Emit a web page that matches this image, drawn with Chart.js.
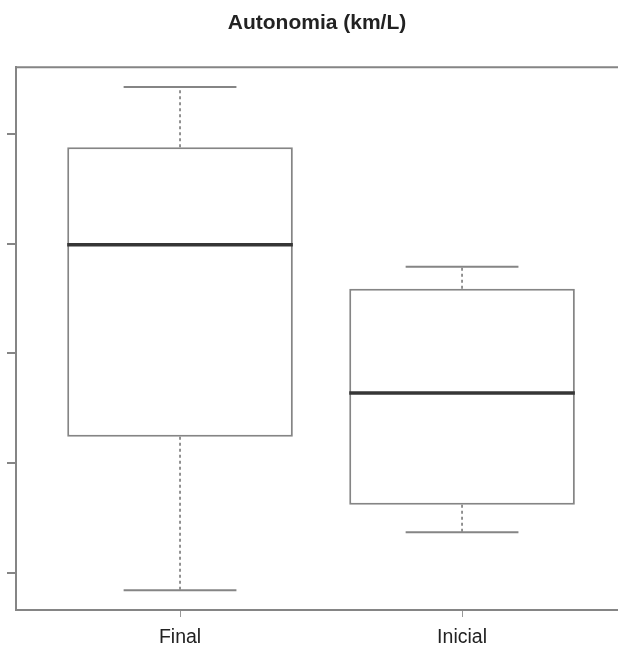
<!DOCTYPE html>
<html>
<head>
<meta charset="utf-8">
<script src="https://cdn.jsdelivr.net/npm/chart.js@4/dist/chart.umd.min.js"></script>
<style>
  html, body { margin: 0; padding: 0; background: #fff; }
  #wrap { width: 618px; height: 653px; }
</style>
</head>
<body>
<div id="wrap"><canvas id="boxChart"></canvas></div>
<script>
// boxplot stats (y units are arbitrary, tick labels are cut off)
const categories = ['Final', 'Inicial'];
const whiskerLow = [8.84, 9.37];
const q1 = [10.24, 9.62];
const median = [11.99, 10.64];
const q3 = [12.88, 11.59];
const whiskerHigh = [13.43, 11.79];
const yTicks = [9, 10, 11, 12, 13];
const xTicks = [1, 2];

const lineGrey = '#858585';
const FONT = "'Liberation Sans', Arial, Helvetica, sans-serif";

// medians, whiskers, caps and the top frame line
const boxExtras = {
  id: 'boxExtras',
  afterDatasetsDraw(chart) {
    const ctx = chart.ctx;
    const x = chart.scales.x;
    const y = chart.scales.y;
    const area = chart.chartArea;
    ctx.save();

    // frame top line
    ctx.strokeStyle = lineGrey;
    ctx.lineWidth = 2;
    ctx.beginPath();
    ctx.moveTo(area.left, area.top);
    ctx.lineTo(area.right, area.top);
    ctx.stroke();

    categories.forEach((c, i) => {
      const pos = xTicks[i];
      const xc = x.getPixelForValue(pos);

      // whiskers (dashed)
      ctx.strokeStyle = '#6f6f6f';
      ctx.lineWidth = 1.5;
      ctx.setLineDash([3, 3]);
      ctx.beginPath();
      ctx.moveTo(xc, y.getPixelForValue(q3[i]));
      ctx.lineTo(xc, y.getPixelForValue(whiskerHigh[i]));
      ctx.moveTo(xc, y.getPixelForValue(q1[i]));
      ctx.lineTo(xc, y.getPixelForValue(whiskerLow[i]));
      ctx.stroke();
      ctx.setLineDash([]);

      // caps
      ctx.strokeStyle = lineGrey;
      ctx.lineWidth = 2;
      ctx.beginPath();
      [whiskerHigh[i], whiskerLow[i]].forEach(v => {
        const yy = y.getPixelForValue(v);
        ctx.moveTo(x.getPixelForValue(pos - 0.2), yy);
        ctx.lineTo(x.getPixelForValue(pos + 0.2), yy);
      });
      ctx.stroke();

      // median
      ctx.strokeStyle = '#363636';
      ctx.lineWidth = 3.5;
      ctx.beginPath();
      const ym = y.getPixelForValue(median[i]);
      ctx.moveTo(x.getPixelForValue(pos - 0.4), ym);
      ctx.lineTo(x.getPixelForValue(pos + 0.4), ym);
      ctx.stroke();
    });
    ctx.restore();
  }
};

const ctx_box = document.getElementById('boxChart');

new Chart(ctx_box, {
  type: 'bar',
  data: {
    datasets: [{
      label: 'Autonomia',
      data: categories.map((c, i) => ({ x: xTicks[i], y: [q1[i], q3[i]] })),
      backgroundColor: '#ffffff',
      borderColor: lineGrey,
      borderWidth: 2,
      borderSkipped: false,
      categoryPercentage: 0.8,
      barPercentage: 1
    }]
  },
  options: {
    responsive: true,
    maintainAspectRatio: false,
    animation: false,
    layout: { padding: 0 },
    plugins: {
      legend: { display: false },
      tooltip: { enabled: false },
      title: {
        display: true,
        text: 'Autonomia (km/L)',
        fullSize: false,
        color: '#222',
        font: { family: FONT, size: 21, weight: 'bold' },
        padding: { top: 11, bottom: 31 }
      }
    },
    scales: {
      x: {
        type: 'linear',
        offset: false,
        min: 0.4184,
        max: 2.553,
        afterBuildTicks: (scale) => { scale.ticks = xTicks.map(v => ({ value: v })); },
        afterFit: (scale) => { scale.height = 43; },
        ticks: {
          color: '#222',
          padding: 9,
          font: { family: FONT, size: 19.5 },
          callback: (v) => categories[xTicks.indexOf(v)]
        },
        grid: { offset: false, drawOnChartArea: false, tickLength: 7, color: '#999', lineWidth: 1 },
        border: { display: true, color: lineGrey, width: 2 }
      },
      y: {
        type: 'linear',
        min: 8.66,
        max: 13.61,
        afterBuildTicks: (scale) => { scale.ticks = yTicks.map(v => ({ value: v })); },
        afterFit: (scale) => { scale.width = 16; },
        ticks: { display: false },
        grid: { drawOnChartArea: false, tickLength: 9, color: lineGrey, lineWidth: 2 },
        border: { display: true, color: lineGrey, width: 2 }
      }
    }
  },
  plugins: [boxExtras]
});
</script>
</body>
</html>
